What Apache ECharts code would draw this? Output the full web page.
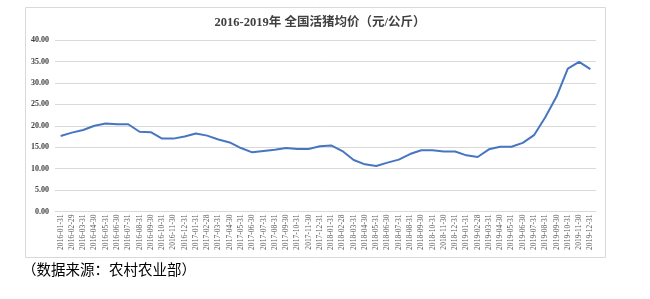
<!DOCTYPE html>
<html><head><meta charset="utf-8">
<script src="https://cdn.jsdelivr.net/npm/echarts@6/dist/echarts.min.js"></script>
<style>html,body{margin:0;padding:0;background:#fff}#c{width:650px;height:299px}</style>
</head><body><div id="c"></div>
<script>
const categories = ["2016-01-31","2016-02-29","2016-03-31","2016-04-30","2016-05-31","2016-06-30","2016-07-31","2016-08-31","2016-09-30","2016-10-31","2016-11-30","2016-12-31",
"2017-01-31","2017-02-28","2017-03-31","2017-04-30","2017-05-31","2017-06-30","2017-07-31","2017-08-31","2017-09-30","2017-10-31","2017-11-30","2017-12-31",
"2018-01-31","2018-02-28","2018-03-31","2018-04-30","2018-05-31","2018-06-30","2018-07-31","2018-08-31","2018-09-30","2018-10-31","2018-11-30","2018-12-31",
"2019-01-31","2019-02-28","2019-03-31","2019-04-30","2019-05-31","2019-06-30","2019-07-31","2019-08-31","2019-09-30","2019-10-31","2019-11-30","2019-12-31"];
const prices = [17.6,18.4,19.0,20.0,20.5,20.35,20.35,18.6,18.5,17.0,17.0,17.5,
18.2,17.7,16.8,16.1,14.8,13.8,14.1,14.4,14.8,14.6,14.6,15.2,
15.4,14.1,12.0,11.0,10.6,11.4,12.1,13.4,14.3,14.3,14.0,14.0,
13.1,12.7,14.5,15.1,15.1,16.0,17.8,22.0,26.8,33.3,34.9,33.2];
const yTicks = {min:0, max:40, step:5};
const titleText = "2016-2019年 全国活猪均价（元/公斤）";
const sourceText = "（数据来源：农村农业部）";

const serif = "'Liberation Serif','Noto Sans CJK SC',serif";
const chart = echarts.init(document.getElementById('c'), null, {renderer:'canvas'});
chart.setOption({
  animation:false,
  backgroundColor:'#fff',
  title:{text:titleText,left:315,textAlign:'center',top:12,
    textStyle:{fontFamily:serif,fontSize:12.5,fontWeight:'bold',color:'#404040'}},
  grid:{left:55,right:54,top:40,bottom:87.5,containLabel:false},
  xAxis:{type:'category',data:categories,boundaryGap:true,
    axisLine:{lineStyle:{color:'#d9d9d9'}},axisTick:{show:false},
    axisLabel:{rotate:90,interval:0,fontFamily:serif,fontSize:7.6,color:'#595959',margin:3}},
  yAxis:{type:'value',min:yTicks.min,max:yTicks.max,interval:yTicks.step,
    axisLine:{show:false},axisTick:{show:false},
    splitLine:{lineStyle:{color:'#d9d9d9',width:1}},
    axisLabel:{formatter:v=>v.toFixed(2),fontFamily:serif,fontSize:8,fontWeight:'bold',color:'#404040',margin:6}},
  series:[{type:'line',data:prices,symbol:'none',smooth:false,
    lineStyle:{color:'#4676c2',width:2}}],
  graphic:[
    {type:'rect',shape:{x:25.5,y:7.5,width:580,height:250},style:{fill:null,stroke:'#d9d9d9',lineWidth:1},z:-1},
    {type:'text',left:22,top:264,style:{text:sourceText,font:"14.5px "+serif,fill:'#000'}}
  ]
});
</script></body></html>
